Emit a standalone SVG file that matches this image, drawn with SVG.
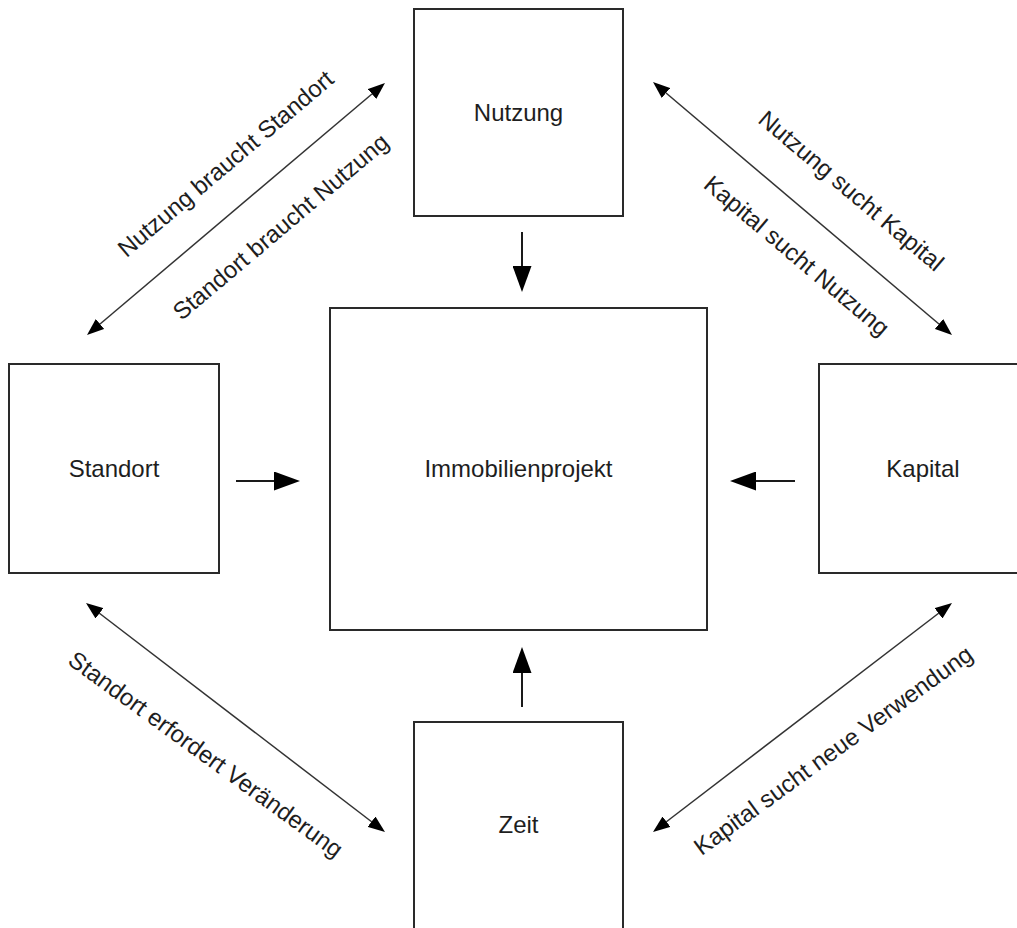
<svg xmlns="http://www.w3.org/2000/svg" width="1017" height="928" viewBox="0 0 1017 928">
  <style>
    .box { fill: #ffffff; stroke: #2a2a2a; stroke-width: 2; }
    .label { font-family: "Liberation Sans", Arial, sans-serif; font-size: 24px; fill: #1e1e1e; text-anchor: middle; }
    .flow { stroke: #1a1a1a; stroke-width: 2; fill: none; marker-end: url(#headBig); }
    .link { stroke: #333333; stroke-width: 1.5; fill: none; marker-start: url(#headSmall); marker-end: url(#headSmall); }
  </style>
  <defs>
    <marker id="headBig" markerUnits="userSpaceOnUse" markerWidth="26" markerHeight="19" refX="4" refY="9.5" orient="auto">
      <path d="M0,0 L26,9.5 L0,19 z" fill="#000000"/>
    </marker>
    <marker id="headSmall" markerUnits="userSpaceOnUse" markerWidth="17" markerHeight="13" refX="3" refY="6.5" orient="auto-start-reverse">
      <path d="M0,0 L17,6.5 L0,13 z" fill="#000000"/>
    </marker>
  </defs>

  <rect width="1017" height="928" fill="#ffffff"/>

  <!-- nodes -->
  <g id="nutzung">
    <rect class="box" x="414" y="9" width="209" height="207"/>
    <text class="label" x="518.5" y="121">Nutzung</text>
  </g>
  <g id="standort">
    <rect class="box" x="9" y="364" width="210" height="209"/>
    <text class="label" x="114" y="477">Standort</text>
  </g>
  <g id="kapital">
    <rect class="box" x="819" y="364" width="210" height="209"/>
    <text class="label" x="923" y="477">Kapital</text>
  </g>
  <g id="zeit">
    <rect class="box" x="414" y="722" width="209" height="210"/>
    <text class="label" x="518.5" y="833">Zeit</text>
  </g>
  <g id="immobilienprojekt">
    <rect class="box" x="330" y="308" width="377" height="322"/>
    <text class="label" x="518.5" y="477">Immobilienprojekt</text>
  </g>

  <!-- connectors -->
  <g id="connectors">
    <line class="flow" x1="522" y1="232" x2="522" y2="270"/>
    <line class="flow" x1="236" y1="481" x2="278" y2="481"/>
    <line class="flow" x1="795" y1="481" x2="752" y2="481"/>
    <line class="flow" x1="522" y1="707" x2="522" y2="669"/>

    <line class="link" x1="97.7" y1="326" x2="374.3" y2="92"/>
    <line class="link" x1="663.7" y1="91" x2="941.3" y2="326"/>
    <line class="link" x1="97.1" y1="611.5" x2="373.9" y2="823.5"/>
    <line class="link" x1="664.1" y1="823.5" x2="940.9" y2="611.5"/>
  </g>

  <!-- connector labels -->
  <g id="connector-labels">
    <text class="label" transform="translate(231,170) rotate(-40.2)">Nutzung braucht Standort</text>
    <text class="label" transform="translate(286,233) rotate(-40.2)">Standort braucht Nutzung</text>
    <text class="label" transform="translate(846,197) rotate(40.2)">Nutzung sucht Kapital</text>
    <text class="label" transform="translate(791.5,262) rotate(40.2)">Kapital sucht Nutzung</text>
    <text class="label" transform="translate(201,761) rotate(36)">Standort erfordert Veränderung</text>
    <text class="label" transform="translate(838,757) rotate(-36)">Kapital sucht neue Verwendung</text>
  </g>
</svg>
